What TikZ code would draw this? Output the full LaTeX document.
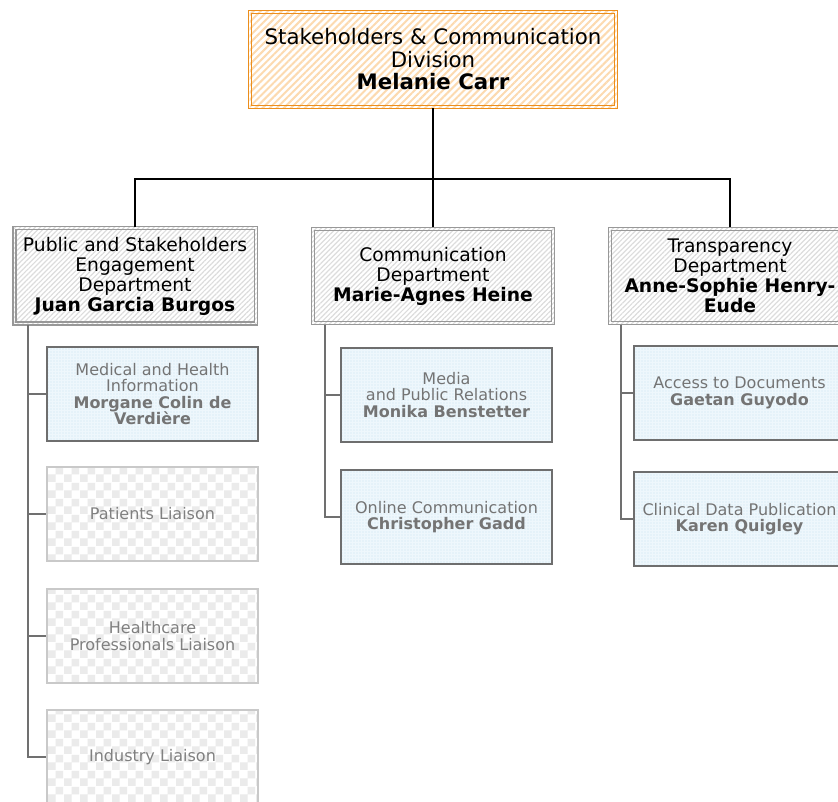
\documentclass[tikz,border=0pt]{standalone}
\usepackage{fontspec}
\setmainfont{DejaVu Sans}
\usetikzlibrary{patterns,patterns.meta}
\definecolor{orangeb}{HTML}{EC8E1C}
\definecolor{orangef}{HTML}{FCDAB0}
\definecolor{grayb}{HTML}{989898}
\definecolor{grayf}{HTML}{DCDCDC}
\definecolor{childb}{HTML}{6E6E6E}
\definecolor{childfill}{HTML}{EEF7FC}
\definecolor{childdot}{HTML}{C8E3F3}
\definecolor{childtext}{HTML}{747474}
\definecolor{vacb}{HTML}{C9C9C9}
\definecolor{vacf}{HTML}{EBEBEB}
\definecolor{vactext}{HTML}{808080}
\definecolor{subl}{HTML}{707070}
\pgfdeclarepatternformonly{mychecker}{\pgfpointorigin}{\pgfqpoint{16pt}{16pt}}{\pgfqpoint{16pt}{16pt}}{%
  \pgfpathrectangle{\pgfpointorigin}{\pgfqpoint{8pt}{8pt}}%
  \pgfpathrectangle{\pgfqpoint{8pt}{8pt}}{\pgfqpoint{8pt}{8pt}}%
  \pgfusepath{fill}}
\tikzset{
  topbox/.style={pattern={Lines[angle=45,distance=5pt,line width=2pt]}, pattern color=orangef,
    minimum width=367pt, minimum height=96pt, inner sep=0pt, align=center,
    font=\fontsize{21.3}{22.5}\selectfont},
  topline/.style={draw=orangeb, line width=1.2pt},
  deptbox/.style={pattern={Lines[angle=45,distance=3.5pt,line width=1.2pt]}, pattern color=grayf,
    minimum width=243pt, minimum height=97pt, inner sep=0pt, align=center,
    font=\fontsize{18.7}{20}\selectfont},
  deptline/.style={draw=grayb, line width=1.2pt},
  childbox/.style={draw=childb, line width=2pt, preaction={fill=childfill},
    pattern={Dots[distance=3pt,radius=0.6pt]}, pattern color=childdot,
    minimum width=211pt, minimum height=94pt, inner sep=0pt, align=center,
    text=childtext, font=\fontsize{16}{16.5}\selectfont},
  vacbox/.style={draw=vacb, line width=2pt, preaction={fill=white},
    pattern=mychecker, pattern color=vacf,
    minimum width=211pt, minimum height=94pt, inner sep=0pt, align=center,
    text=vactext, font=\fontsize{16}{16.5}\selectfont},
  mainline/.style={draw=black, line width=2pt},
  subline/.style={draw=subl, line width=2pt},
}
\begin{document}
\begin{tikzpicture}[x=1pt,y=-1pt]
\useasboundingbox (0,0) rectangle (838,802);
\clip (0,0) rectangle (838,802);
\node[topbox] (top) at (433,59.5) {Stakeholders \& Communication\\Division\\\textbf{Melanie Carr}};
\draw[topline] (top.north west) rectangle (top.south east);
\draw[topline] ([shift={(3,3)}]top.north west) rectangle ([shift={(-3,-3)}]top.south east);
\node[deptbox] (d1) at (135,276) {Public and Stakeholders\\Engagement\\Department\\\textbf{Juan Garcia Burgos}};
\node[deptbox] (d2) at (433,276) {Communication\\Department\\\textbf{Marie-Agnes Heine}};
\node[deptbox] (d3) at (730,276) {Transparency\\Department\\\textbf{Anne-Sophie Henry-}\\\textbf{Eude}};
\foreach \d in {d1,d2,d3} {
  \draw[deptline] (\d.north west) rectangle (\d.south east);
  \draw[deptline] ([shift={(3,3)}]\d.north west) rectangle ([shift={(-3,-3)}]\d.south east);
}
\coordinate (bus) at (433,179);
\draw[mainline] (top.south) -- (bus);
\draw[mainline] (d1.north) |- (bus);
\draw[mainline] (d3.north) |- (bus);
\draw[mainline] (d2.north) -- (bus);
% children
\node[childbox] (c11) at (152.5,394) {Medical and Health\\Information\\\textbf{Morgane Colin de}\\\textbf{Verdière}};
\node[vacbox] (c12) at (152.5,514) {Patients Liaison};
\node[vacbox] (c13) at (152.5,636) {Healthcare\\Professionals Liaison};
\node[vacbox] (c14) at (152.5,757) {Industry Liaison};
\node[childbox] (c21) at (446.5,395) {Media\\and Public Relations\\\textbf{Monika Benstetter}};
\node[childbox] (c22) at (446.5,517) {Online Communication\\\textbf{Christopher Gadd}};
\node[childbox] (c31) at (739.5,393) {Access to Documents\\\textbf{Gaetan Guyodo}};
\node[childbox] (c32) at (739.5,519) {Clinical Data Publication\\\textbf{Karen Quigley}};
\foreach \c in {c11,c12,c13,c14} \draw[subline] ([xshift=15.5pt]d1.south west) |- (\c.west);
\foreach \c in {c21,c22} \draw[subline] ([xshift=13.5pt]d2.south west) |- (\c.west);
\foreach \c in {c31,c32} \draw[subline] ([xshift=12.5pt]d3.south west) |- (\c.west);
\end{tikzpicture}
\end{document}
